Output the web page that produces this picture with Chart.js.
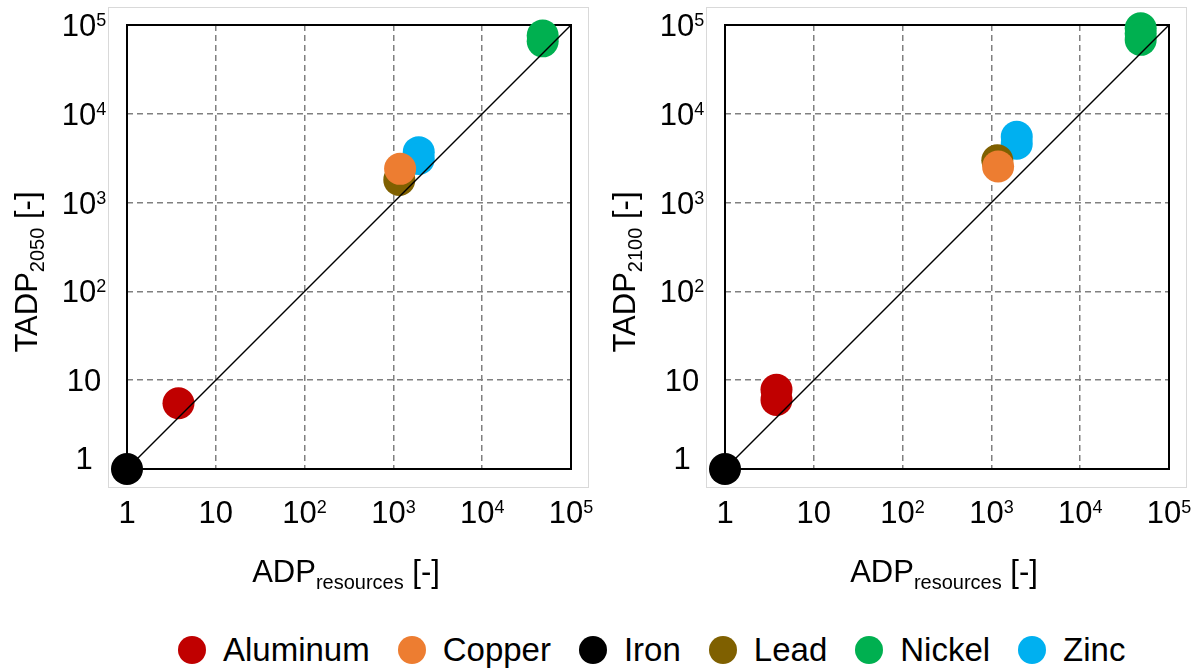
<!DOCTYPE html>
<html>
<head>
<meta charset="utf-8">
<script src="https://cdn.jsdelivr.net/npm/chart.js@4/dist/chart.umd.min.js"></script>
<style>
  body { margin:0; background:#fff; width:1202px; height:672px; overflow:hidden; position:relative; font-family:"Liberation Sans", Arial, sans-serif; }
  .panel { position:absolute; top:0; width:600px; height:610px; }
  #legend { position:absolute; left:178px; top:632px; display:flex; align-items:center; white-space:nowrap; }
  #legend .item { display:flex; align-items:center; margin-right:28px; font-size:33px; color:#000; height:36px; }
  #legend .dot { width:28px; height:28px; border-radius:50%; margin-right:17px; }
</style>
</head>
<body>
<div class="panel" style="left:0"><canvas id="c2050" width="600" height="610"></canvas></div>
<div class="panel" style="left:598px"><canvas id="c2100" width="600" height="610"></canvas></div>
<div id="legend"></div>
<script>
// metals and colours (legend order)
let metals = ["Aluminum","Copper","Iron","Lead","Nickel","Zinc"];
let colors = ["#C00000","#ED7D31","#000000","#7F6000","#00B050","#00B0F0"];
// ADP resources (x) per metal
let adp = [3.8, 1190, 1, 1165, 48000, 1930];
// TADP values (y), a few scenario points per metal
let tadp2050 = [[5.5],[2400],[1],[1800],[76000,65500],[3700,3100]];
let tadp2100 = [[7.8,6.0],[2550],[1],[3000],[92000,80000,68000],[5500,4600]];
// axis ticks
let tickVals = [1,10,100,1000,10000,100000];
let tickBase = ["1","10","10","10","10","10"];
let tickExp  = ["","","2","3","4","5"];

const FONT = '"Liberation Sans", Arial, sans-serif';

function supText(ctx, parts, x, y, align) {
  // parts: [text, size, dy]
  let w = 0;
  parts.forEach(p => { ctx.font = p[1]+"px "+FONT; w += ctx.measureText(p[0]).width; });
  let cx = align==="center" ? x - w/2 : x;
  parts.forEach(p => { ctx.font = p[1]+"px "+FONT; ctx.fillText(p[0], cx, y + p[2]); cx += ctx.measureText(p[0]).width; });
}

const framePlugin = {
  id: "frame",
  beforeDatasetsDraw(chart) {
    let a = chart.chartArea, ctx = chart.ctx;
    ctx.save();
    ctx.strokeStyle = "#d9d9d9"; ctx.lineWidth = 1;
    ctx.strokeRect(a.left-18.5, a.top-17.5, a.width+36, a.height+36);
    ctx.strokeStyle = "#000"; ctx.lineWidth = 2;
    ctx.strokeRect(a.left, a.top, a.width, a.height);
    ctx.restore();
  },
  afterDraw(chart, args, opts) {
    let a = chart.chartArea, ctx = chart.ctx;
    let xs = chart.scales.x, ys = chart.scales.y;
    ctx.save();
    ctx.fillStyle = "#000"; ctx.textBaseline = "alphabetic";
    tickVals.forEach((v,i) => {
      let parts = [[tickBase[i],31,0]];
      if (tickExp[i]) parts.push([tickExp[i],18,-10]);
      supText(ctx, parts, xs.getPixelForValue(v), a.bottom+54, "center");
      let yy = ys.getPixelForValue(v) + 11 - (i===0 ? 11 : 0);
      supText(ctx, parts, a.left-43, yy, "center");
    });
    // x title
    supText(ctx, [["ADP",31,0],["resources",20,7],[" [-]",31,0]], (a.left+a.right)/2-3, a.bottom+113, "center");
    // y title
    ctx.translate(a.left-90, 272);
    ctx.rotate(-Math.PI/2);
    supText(ctx, [["TADP",31,0],[opts.year,20,7],[" [-]",31,0]], 0, 0, "center");
    ctx.restore();
  }
};

function makeChart(id, ys, year) {
  let datasets = [{
    type:"line", label:"1:1", data:[{x:1,y:1},{x:100000,y:100000}],
    borderColor:"#000", borderWidth:1.5, pointRadius:0, order:-1, clip:false
  }];
  metals.forEach((m,i) => {
    datasets.push({
      label:m, data: ys[i].map(v => ({x:adp[i], y:v})),
      backgroundColor:colors[i], borderColor:colors[i], borderWidth:0,
      pointRadius:16, pointHoverRadius:16, order:i, clip:false
    });
  });
  return new Chart(document.getElementById(id), {
    type:"scatter",
    data:{ datasets },
    options:{
      responsive:false, animation:false,
      layout:{ padding:{ left:127, top:25, right:29, bottom:141 } },
      plugins:{ legend:{ display:false }, tooltip:{ enabled:false }, frame:{ year } },
      scales:{
        x:{ type:"logarithmic", min:1, max:100000,
            afterBuildTicks: s => { s.ticks = tickVals.map(v => ({value:v})); },
            ticks:{ display:false },
            grid:{ color:"#808080", lineWidth:1.5, drawTicks:false },
            border:{ display:false, dash:[6,4] } },
        y:{ type:"logarithmic", min:1, max:100000,
            afterBuildTicks: s => { s.ticks = tickVals.map(v => ({value:v})); },
            ticks:{ display:false },
            grid:{ color:"#808080", lineWidth:1.5, drawTicks:false },
            border:{ display:false, dash:[6,4] } }
      }
    },
    plugins:[framePlugin]
  });
}

makeChart("c2050", tadp2050, "2050");
makeChart("c2100", tadp2100, "2100");

document.getElementById("legend").innerHTML = metals.map((m,i) =>
  `<div class="item"><span class="dot" style="background:${colors[i]}"></span>${m}</div>`).join("");
</script>
</body>
</html>
